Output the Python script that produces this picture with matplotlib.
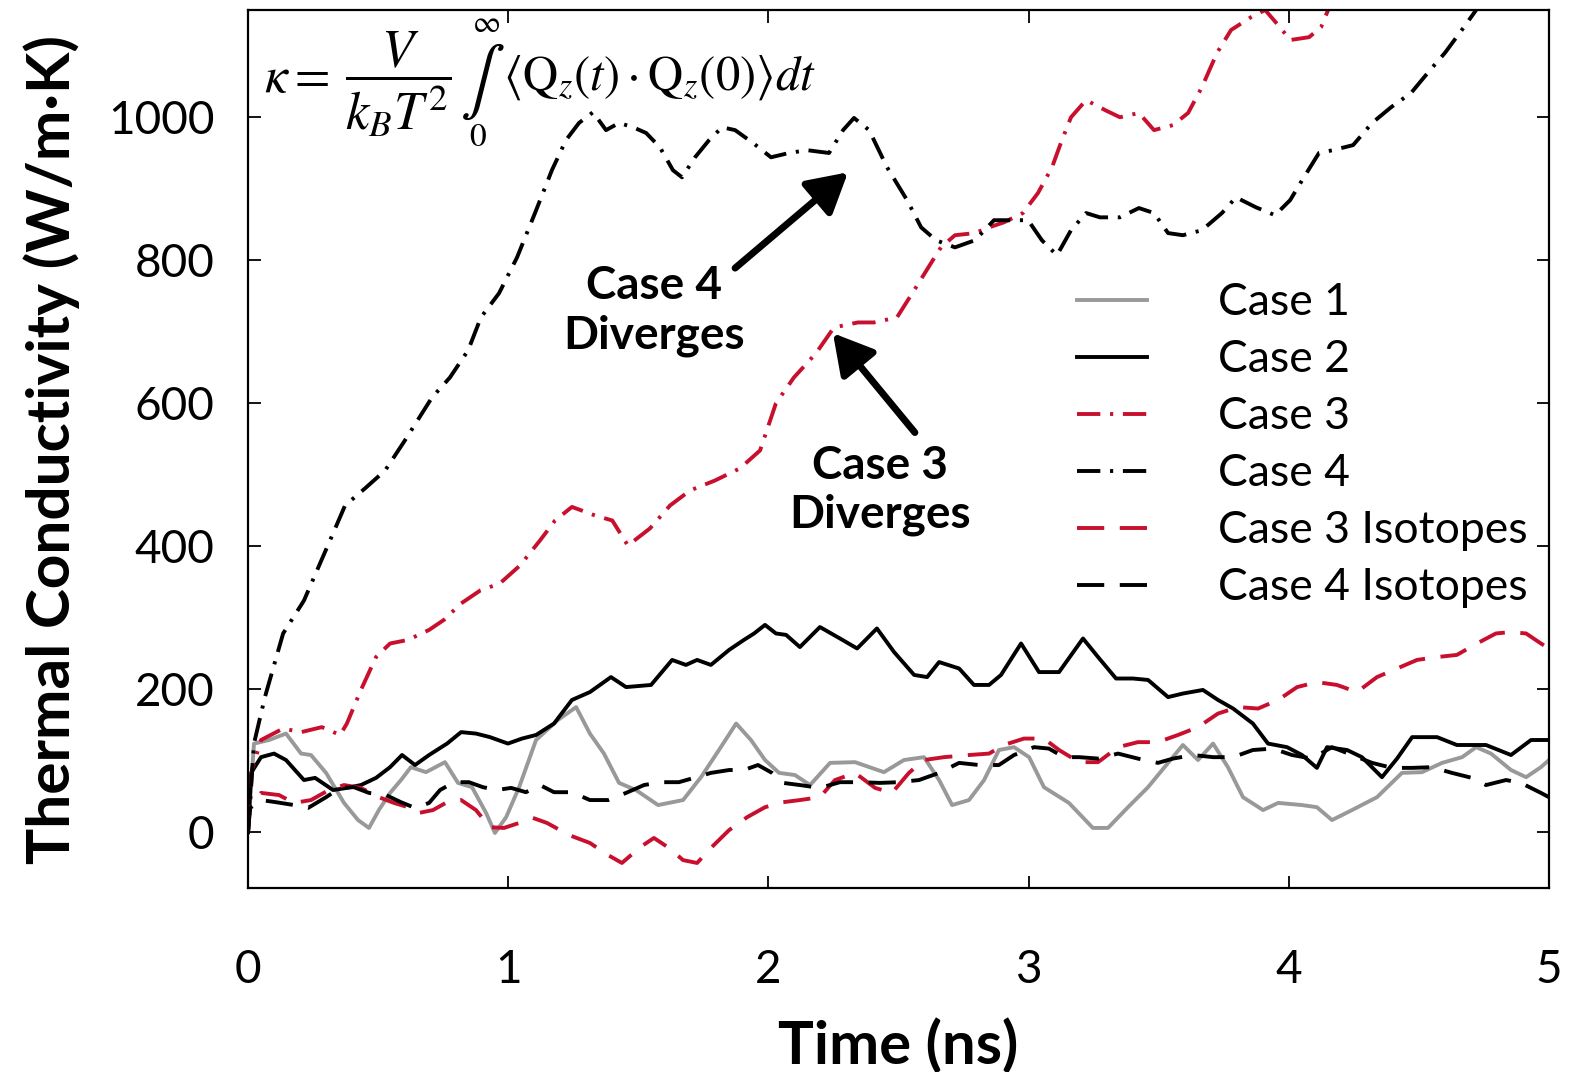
import matplotlib
matplotlib.use("Agg")
import matplotlib.pyplot as plt

plt.rcParams['font.family'] = ['Lato', 'DejaVu Sans']
plt.rcParams['mathtext.fontset'] = 'stix'

# time (ns) and thermal conductivity (W/m-K)
case1_t = [0, 0.023, 0.081, 0.146, 0.204, 0.242, 0.3, 0.369, 0.423, 0.465, 0.503, 0.546, 0.588, 0.626,
           0.684, 0.757, 0.807, 0.861, 0.915, 0.949, 0.992, 1.042, 1.107, 1.191, 1.261, 1.314, 1.368,
           1.426, 1.491, 1.576, 1.672, 1.741, 1.81, 1.876, 1.933, 1.987, 2.041, 2.102, 2.16, 2.237,
           2.333, 2.444, 2.521, 2.598, 2.656, 2.706, 2.771, 2.829, 2.886, 2.944, 3.002, 3.059, 3.155,
           3.247, 3.305, 3.382, 3.459, 3.536, 3.593, 3.651, 3.709, 3.766, 3.824, 3.901, 3.959, 4.051,
           4.108, 4.166, 4.243, 4.339, 4.435, 4.512, 4.589, 4.666, 4.72, 4.777, 4.854, 4.912, 4.969, 5.0]
case1_k = [0, 124, 129, 138, 110, 108, 83, 41, 17, 6, 31, 55, 73, 91,
           84, 98, 69, 63, 27, -1, 21, 63, 129, 157, 175, 138, 110,
           69, 59, 38, 45, 77, 115, 152, 129, 101, 83, 80, 66, 97,
           98, 84, 101, 105, 73, 38, 45, 73, 115, 119, 105, 63, 41,
           6, 6, 35, 63, 97, 122, 101, 124, 91, 49, 31, 41, 38,
           35, 17, 31, 49, 83, 84, 97, 105, 119, 110, 87, 77, 91, 101]

case2_t = [0, 0.012, 0.05, 0.1, 0.146, 0.215, 0.258, 0.327, 0.38, 0.434, 0.492, 0.546, 0.592, 0.642,
           0.696, 0.765, 0.819, 0.876, 0.93, 0.999, 1.053, 1.107, 1.176, 1.245, 1.314, 1.395, 1.453,
           1.549, 1.63, 1.683, 1.726, 1.779, 1.849, 1.906, 1.945, 1.987, 2.029, 2.068, 2.121, 2.198,
           2.275, 2.341, 2.417, 2.483, 2.56, 2.61, 2.656, 2.733, 2.79, 2.848, 2.894, 2.971, 3.04,
           3.117, 3.209, 3.267, 3.336, 3.401, 3.459, 3.536, 3.593, 3.67, 3.728, 3.786, 3.862, 3.92,
           3.993, 4.051, 4.108, 4.147, 4.224, 4.281, 4.358, 4.416, 4.474, 4.57, 4.646, 4.758, 4.854,
           4.931, 5.0]
case2_k = [0, 83, 105, 110, 101, 73, 76, 59, 62, 66, 76, 91, 108, 94,
           108, 124, 140, 138, 133, 124, 131, 136, 152, 185, 196, 217, 203,
           206, 241, 234, 241, 234, 255, 269, 278, 290, 278, 276, 259, 287,
           271, 257, 285, 252, 220, 217, 238, 229, 206, 206, 220, 264, 224,
           224, 271, 245, 215, 215, 213, 189, 194, 199, 185, 173, 152, 124,
           119, 108, 90, 119, 115, 105, 77, 103, 133, 133, 122, 122, 108,
           129, 129]

case3_t = [0, 0.015, 0.05, 0.135, 0.204, 0.284, 0.354, 0.38, 0.434, 0.492, 0.546, 0.615, 0.696, 0.753,
           0.819, 0.892, 0.968, 1.045, 1.122, 1.18, 1.245, 1.334, 1.4, 1.46, 1.545, 1.622, 1.699,
           1.795, 1.891, 1.968, 2.029, 2.098, 2.183, 2.252, 2.344, 2.406, 2.494, 2.567, 2.625, 2.663,
           2.717, 2.794, 2.848, 2.905, 2.978, 3.036, 3.09, 3.128, 3.163, 3.221, 3.294, 3.351, 3.424,
           3.482, 3.555, 3.613, 3.666, 3.724, 3.778, 3.855, 3.909, 3.966, 4.005, 4.078, 4.124, 4.151,
           4.197]
case3_k = [0, 87, 129, 145, 140, 147, 136, 152, 199, 245, 264, 269, 283, 297,
           320, 338, 348, 373, 408, 436, 455, 443, 436, 401, 425, 457, 478,
           492, 509, 534, 600, 636, 670, 706, 713, 713, 720, 762, 796, 818,
           835, 838, 846, 853, 866, 894, 930, 968, 1000, 1024, 1010, 1000, 1006,
           982, 989, 1006, 1042, 1090, 1122, 1140, 1150, 1126, 1108, 1112, 1126, 1150,
           1178]

case4_t = [0, 0.023, 0.065, 0.135, 0.215, 0.315, 0.373, 0.45, 0.527, 0.603, 0.707, 0.776, 0.846, 0.895,
           0.965, 1.034, 1.103, 1.168, 1.222, 1.272, 1.326, 1.376, 1.426, 1.48, 1.53, 1.583, 1.633,
           1.668, 1.718, 1.772, 1.822, 1.872, 1.941, 2.01, 2.079, 2.148, 2.233, 2.287, 2.329, 2.387,
           2.456, 2.533, 2.587, 2.644, 2.717, 2.794, 2.867, 2.94, 2.998, 3.051, 3.109, 3.163, 3.221,
           3.274, 3.351, 3.424, 3.482, 3.536, 3.593, 3.666, 3.743, 3.797, 3.874, 3.947, 4.005, 4.058,
           4.116, 4.17, 4.247, 4.32, 4.393, 4.47, 4.543, 4.6, 4.673, 4.72, 4.773]
case4_k = [0, 124, 189, 278, 324, 408, 457, 481, 506, 548, 608, 636, 674, 720,
           754, 804, 866, 926, 968, 992, 1007, 982, 992, 986, 978, 958, 926,
           916, 944, 968, 986, 982, 964, 944, 950, 954, 950, 982, 999, 982,
           930, 884, 846, 828, 818, 828, 856, 856, 856, 828, 807, 842, 866,
           860, 860, 873, 866, 838, 835, 842, 866, 888, 874, 863, 884, 916,
           950, 954, 961, 992, 1014, 1034, 1066, 1090, 1126, 1150, 1178]

case3_iso_t = [0, 0.008, 0.05, 0.119, 0.177, 0.242, 0.311, 0.369, 0.434, 0.503, 0.561, 0.615, 0.657,
               0.711, 0.765, 0.819, 0.876, 0.93, 0.984, 1.042, 1.095, 1.149, 1.234, 1.314, 1.384,
               1.437, 1.507, 1.56, 1.618, 1.672, 1.726, 1.779, 1.849, 1.918, 1.987, 2.056, 2.121,
               2.198, 2.256, 2.333, 2.41, 2.475, 2.54, 2.598, 2.675, 2.771, 2.848, 2.905, 2.982,
               3.059, 3.117, 3.194, 3.267, 3.344, 3.42, 3.497, 3.574, 3.651, 3.728, 3.805, 3.882,
               3.959, 4.032, 4.108, 4.185, 4.262, 4.339, 4.416, 4.493, 4.57, 4.646, 4.723, 4.796,
               4.854, 4.912, 4.969, 5.0]
case3_iso_k = [0, 38, 55, 52, 41, 45, 59, 66, 62, 49, 41, 35, 27,
               31, 42, 45, 31, 7, 6, 13, 20, 13, -4, -15, -32,
               -43, -21, -8, -22, -39, -43, -22, 3, 21, 35, 42, 45,
               49, 73, 83, 62, 55, 83, 101, 105, 108, 110, 122, 131,
               131, 115, 98, 98, 119, 126, 126, 136, 147, 166, 175, 173,
               185, 203, 210, 206, 196, 217, 229, 241, 245, 248, 264, 278,
               280, 278, 264, 257]

case4_iso_t = [0, 0.008, 0.05, 0.108, 0.177, 0.231, 0.3, 0.354, 0.407, 0.465, 0.53, 0.588, 0.642,
               0.696, 0.738, 0.792, 0.849, 0.903, 0.957, 1.011, 1.068, 1.122, 1.176, 1.245, 1.314,
               1.384, 1.453, 1.522, 1.587, 1.656, 1.714, 1.779, 1.849, 1.906, 1.96, 2.014, 2.056,
               2.121, 2.198, 2.275, 2.352, 2.429, 2.502, 2.579, 2.656, 2.733, 2.809, 2.886, 2.944,
               3.021, 3.078, 3.136, 3.194, 3.267, 3.344, 3.42, 3.497, 3.555, 3.632, 3.709, 3.786,
               3.862, 3.939, 4.012, 4.089, 4.166, 4.243, 4.32, 4.397, 4.474, 4.55, 4.627, 4.704,
               4.758, 4.835, 4.892, 4.969, 5.0]
case4_iso_k = [0, 34, 45, 42, 38, 34, 49, 62, 63, 55, 52, 42, 34,
               41, 59, 70, 70, 63, 59, 62, 56, 66, 56, 56, 45,
               45, 55, 66, 70, 70, 76, 83, 87, 87, 94, 83, 69,
               66, 62, 70, 70, 69, 70, 73, 83, 97, 94, 94, 108,
               119, 117, 105, 105, 103, 110, 103, 97, 103, 108, 105, 105,
               115, 117, 108, 103, 119, 108, 97, 90, 90, 91, 83, 76,
               66, 73, 69, 55, 49]

x_ticks = [0, 1, 2, 3, 4, 5]
y_ticks = [0, 200, 400, 600, 800, 1000]

red = '#c8102e'
gray = '#999999'
lw = 2.8

W, H = 1569, 1072
fig = plt.figure(figsize=(W / 100, H / 100), dpi=100)
ax = fig.add_axes([248 / W, 184 / H, 1301 / W, 878 / H])

ax.plot(case1_t, case1_k, color=gray, lw=lw, label='Case 1')
ax.plot(case2_t, case2_k, color='black', lw=lw, label='Case 2')
ax.plot(case3_t, case3_k, color=red, lw=lw, dashes=(6, 2.5, 0.8, 2.5), label='Case 3')
ax.plot(case4_t, case4_k, color='black', lw=lw, dashes=(6, 2.5, 0.8, 2.5), label='Case 4')
ax.plot(case3_iso_t, case3_iso_k, color=red, lw=lw, dashes=(7, 4), label='Case 3 Isotopes')
ax.plot(case4_iso_t, case4_iso_k, color='black', lw=lw, dashes=(7, 4), label='Case 4 Isotopes')

ax.set_xlim(0, 5)
ax.set_ylim(-78, 1150)
ax.set_xticks(x_ticks)
ax.set_yticks(y_ticks)
ax.tick_params(direction='in', top=True, right=True, length=9, width=1.3,
               labelsize=33, colors='black')
ax.tick_params(axis='x', pad=44)
ax.tick_params(axis='y', pad=24)
for s in ax.spines.values():
    s.set_linewidth(1.6)

ax.set_xlabel('Time (ns)', fontweight='bold', fontsize=43, labelpad=20)
ax.set_ylabel('Thermal Conductivity (W/m\u00b7K)', fontweight='bold', fontsize=43.5, labelpad=20)

# formula in the upper left corner, built from pieces (figure pixel positions)
def fpos(x, y):
    return x / W, 1 - y / H

fig.text(*fpos(264, 78), r'$\kappa =$', fontsize=37, va='center', ha='left')
fig.text(*fpos(398, 84), r'$\dfrac{V}{k_B T^2}$', fontsize=38, va='center', ha='center')
fig.text(*fpos(482, 82), r'$\int$', fontsize=48, va='center', ha='center')
fig.text(*fpos(486, 23), r'$\infty$', fontsize=22, va='center', ha='center')
fig.text(*fpos(478, 137), r'$0$', fontsize=24, va='center', ha='center')
fig.text(*fpos(503, 78), r'$\langle \mathrm{Q}_z(t)\cdot \mathrm{Q}_z(0)\rangle dt$',
         fontsize=35, va='center', ha='left')

ax.text(1.56, 729, 'Case 4\nDiverges', ha='center', va='center', fontsize=33,
        fontweight='bold', linespacing=1.2)
ax.text(2.43, 478, 'Case 3\nDiverges', ha='center', va='center', fontsize=33,
        fontweight='bold', linespacing=1.2)
arrow = dict(arrowstyle='-|>,head_length=0.8,head_width=0.45', color='black', lw=5,
             mutation_scale=30, shrinkA=0, shrinkB=0)
ax.annotate('', xy=(2.306, 923), xytext=(1.872, 789), arrowprops=arrow)
ax.annotate('', xy=(2.248, 698), xytext=(2.563, 559), arrowprops=arrow)

ax.legend(loc='upper left', bbox_to_anchor=(0.637, 0.69), frameon=False, fontsize=32,
          handlelength=1.58, handletextpad=1.6, labelspacing=0.36, borderpad=0, borderaxespad=0)

fig.savefig('out.png', dpi=100)
